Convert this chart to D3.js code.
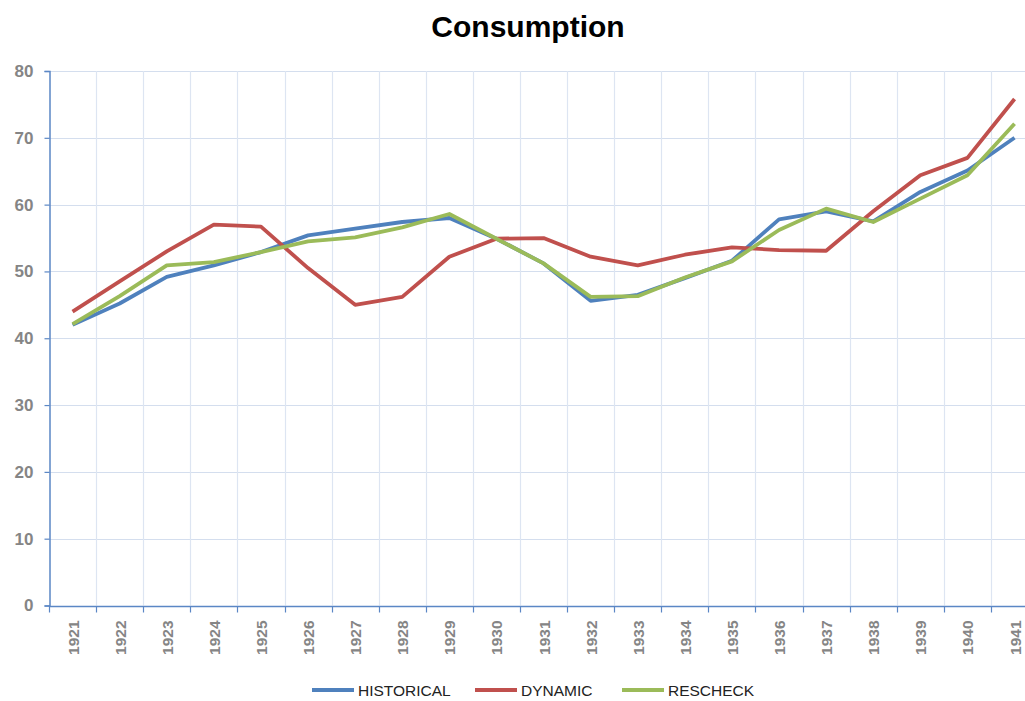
<!DOCTYPE html>
<html>
<head>
<meta charset="utf-8">
<script src="https://cdn.jsdelivr.net/npm/d3@7"></script>
<style>
  body { margin: 0; background: #fff; }
  svg { display: block; font-family: "Liberation Sans", Arial, sans-serif; }
</style>
</head>
<body>
<div id="chart"></div>
<script>
// data
const years = ["1921","1922","1923","1924","1925","1926","1927","1928","1929","1930",
  "1931","1932","1933","1934","1935","1936","1937","1938","1939","1940","1941"];
const historical = [42.0, 45.2, 49.2, 50.9, 52.9, 55.4, 56.4, 57.4, 58.0, 54.9,
  51.2, 45.6, 46.5, 49.0, 51.6, 57.8, 59.0, 57.5, 61.9, 65.1, 70.0];
const dynamic = [44.0, 48.5, 53.0, 57.0, 56.7, 50.5, 45.0, 46.2, 52.2, 54.9,
  55.0, 52.2, 50.9, 52.5, 53.6, 53.2, 53.1, 59.0, 64.4, 67.0, 75.8];
const rescheck = [42.1, 46.3, 50.9, 51.4, 52.9, 54.5, 55.1, 56.6, 58.6, 54.9,
  51.2, 46.2, 46.3, 49.1, 51.5, 56.2, 59.4, 57.4, 60.9, 64.4, 72.1];
const yTicks = [0, 10, 20, 30, 40, 50, 60, 70, 80];

const series = [
  { name: "HISTORICAL", values: historical, color: "#4f81bd" },
  { name: "DYNAMIC", values: dynamic, color: "#c0504d" },
  { name: "RESCHECK", values: rescheck, color: "#9bbb59" },
];

let width = 1025;
let height = 701;
let margin = { top: 71, left: 49, bottom: 95 };
let bandW = 47.1;

let svg = d3.select("#chart").append("svg")
  .attr("width", width)
  .attr("height", height);

let x = d3.scaleBand()
  .domain(years)
  .range([margin.left, margin.left + bandW * years.length]);

let y = d3.scaleLinear()
  .domain([0, 80])
  .range([height - margin.bottom - 0.5, margin.top]);

// horizontal grid
svg.append("g")
  .selectAll("line")
  .data(yTicks)
  .join("line")
  .attr("x1", margin.left)
  .attr("x2", width)
  .attr("y1", (d) => Math.round(y(d)) + 0.5)
  .attr("y2", (d) => Math.round(y(d)) + 0.5)
  .attr("stroke", "#d4deee")
  .attr("stroke-width", 1.2);

// vertical grid at band edges
let edges = years.map((d) => x(d)).slice(1);
svg.append("g")
  .selectAll("line")
  .data(edges)
  .join("line")
  .attr("x1", (d) => Math.round(d) + 0.5)
  .attr("x2", (d) => Math.round(d) + 0.5)
  .attr("y1", y(80))
  .attr("y2", y(0))
  .attr("stroke", "#dde5f2")
  .attr("stroke-width", 1.2);

// y axis
let yAxis = svg.append("g")
  .attr("transform", `translate(${margin.left + 0.5},0)`)
  .call(d3.axisLeft(y).tickValues(yTicks).tickSize(5).tickPadding(11));
yAxis.select(".domain").attr("stroke", "#5b87c5").attr("stroke-width", 1.5);
yAxis.selectAll(".tick line").attr("stroke", "#5b87c5").attr("stroke-width", 1.2);
yAxis.selectAll(".tick text")
  .attr("fill", "#858585")
  .attr("font-size", 17)
  .attr("font-weight", "bold")
  .attr("font-family", "Liberation Sans, Arial, sans-serif");

// x axis
let xAxisG = svg.append("g")
  .attr("transform", `translate(0,${Math.round(y(0)) + 0.5})`);
xAxisG.append("line")
  .attr("x1", margin.left)
  .attr("x2", width)
  .attr("stroke", "#5b87c5")
  .attr("stroke-width", 1.5);
xAxisG.selectAll(".xtick")
  .data(years.map((d) => x(d)))
  .join("line")
  .attr("class", "xtick")
  .attr("x1", (d) => Math.round(d) + 0.5)
  .attr("x2", (d) => Math.round(d) + 0.5)
  .attr("y1", 0)
  .attr("y2", 6)
  .attr("stroke", "#5b87c5")
  .attr("stroke-width", 1.2);
xAxisG.selectAll(".xlabel")
  .data(years)
  .join("text")
  .attr("class", "xlabel")
  .attr("transform", (d) => `translate(${x(d) + bandW / 2 + 6},14) rotate(-90)`)
  .attr("text-anchor", "end")
  .attr("fill", "#858585")
  .attr("font-size", 15.5)
  .attr("font-weight", "bold")
  .text((d) => d);

// lines
let line = d3.line()
  .x((d, i) => x(years[i]) + bandW / 2)
  .y((d) => y(d));

svg.append("g")
  .selectAll("path")
  .data(series)
  .join("path")
  .attr("d", (d) => line(d.values))
  .attr("fill", "none")
  .attr("stroke", (d) => d.color)
  .attr("stroke-width", 3.8)
  .attr("stroke-linejoin", "round");

// title
svg.append("text")
  .attr("x", 528)
  .attr("y", 37)
  .attr("text-anchor", "middle")
  .attr("font-size", 30)
  .attr("font-weight", "bold")
  .attr("fill", "#000")
  .text("Consumption");

// legend
let legendX = [312, 475, 622];
let legend = svg.append("g")
  .selectAll("g")
  .data(series)
  .join("g")
  .attr("transform", (d, i) => `translate(${legendX[i]},690)`);
legend.append("line")
  .attr("x1", 0)
  .attr("x2", 42)
  .attr("stroke", (d) => d.color)
  .attr("stroke-width", 3.8);
legend.append("text")
  .attr("x", 46)
  .attr("y", 5.5)
  .attr("font-size", 15.5)
  .attr("fill", "#222")
  .text((d) => d.name);
</script>
</body>
</html>
